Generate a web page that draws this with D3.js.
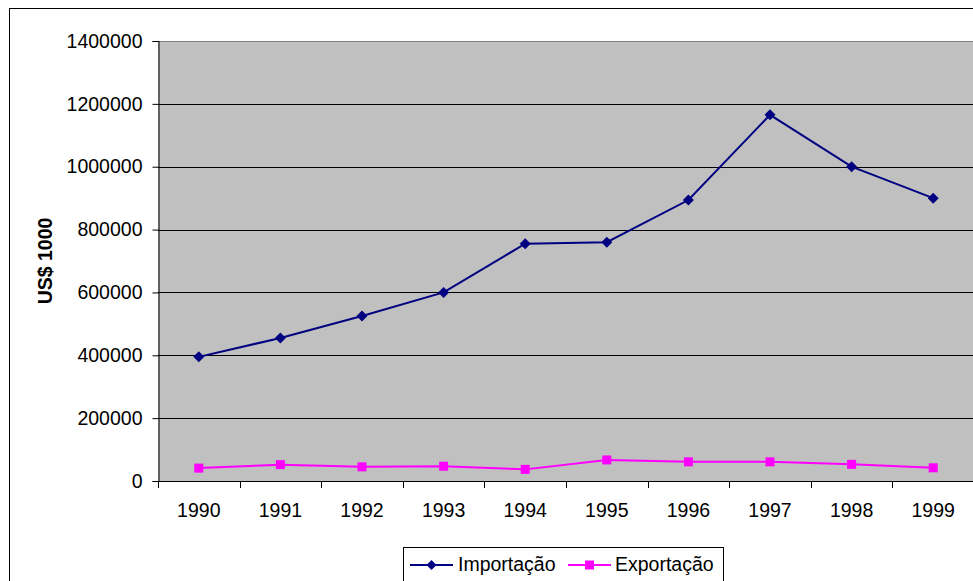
<!DOCTYPE html>
<html><head><meta charset="utf-8">
<script src="https://cdn.jsdelivr.net/npm/d3@7"></script>
<style>body{margin:0;background:#fff;}svg{display:block;font-family:Arial,"Liberation Sans",sans-serif;}</style>
</head><body>
<svg id="c" width="973" height="581"></svg>
<script>
const years = ["1990","1991","1992","1993","1994","1995","1996","1997","1998","1999"];
const importacao = [395000,455000,525000,600000,755000,760000,894000,1165000,1000000,900000];
const exportacao = [41000,52000,45000,47000,37000,67000,61000,61000,53000,42000];
const yTicks = [0,200000,400000,600000,800000,1000000,1200000,1400000];
const seriesNames = ["Importação","Exportação"];
const colors = ["#000080","#FF00FF"];

const FS = "19.5px";
const svg = d3.select("#c");
const L=158, T=41, R=974, B=481;
svg.append("rect").attr("x",9.5).attr("y",8.5).attr("width",1000).attr("height",600).attr("fill","#fff").attr("stroke","#000");
const x = d3.scaleBand().domain(years).range([L,R]).padding(0);
const y = d3.scaleLinear().domain([0,1400000]).range([B,T]);
svg.append("rect").attr("x",L).attr("y",T).attr("width",R-L).attr("height",B-T).attr("fill","#C0C0C0");
svg.append("line").attr("x1",L).attr("x2",R).attr("y1",T+0.5).attr("y2",T+0.5).attr("stroke","#808080");
svg.append("g").selectAll("line").data(yTicks.filter(d=>d>0&&d<1400000)).join("line")
  .attr("x1",L).attr("x2",R).attr("y1",d=>Math.round(y(d))+0.5).attr("y2",d=>Math.round(y(d))+0.5).attr("stroke","#000");

const ya = d3.axisLeft(y).tickValues(yTicks).tickSize(6).tickPadding(10).tickFormat(d=>String(d));
const gy = svg.append("g").attr("transform",`translate(${L+0.5},0)`).call(ya);
gy.selectAll("text").attr("font-size",FS).attr("fill","#000").attr("font-family","Arial,'Liberation Sans',sans-serif");
gy.selectAll("line,path").attr("stroke","#000");

const xa = d3.axisBottom(x).tickSize(0).tickPadding(22);
const gx = svg.append("g").attr("transform",`translate(0,${B+0.5})`).call(xa);
gx.select("path").remove();
gx.selectAll("text").attr("font-size",FS).attr("fill","#000").attr("font-family","Arial,'Liberation Sans',sans-serif");
svg.append("line").attr("x1",L).attr("x2",R).attr("y1",B+0.5).attr("y2",B+0.5).attr("stroke","#000");
svg.append("g").selectAll("line").data(years).join("line")
  .attr("x1",d=>Math.round(x(d))+0.5).attr("x2",d=>Math.round(x(d))+0.5).attr("y1",B).attr("y2",B+7).attr("stroke","#000");

svg.append("text").attr("transform",`translate(52,${(T+B)/2}) rotate(-90)`).attr("text-anchor","middle")
  .attr("font-size","19.5px").attr("font-weight","bold").text("US$ 1000");

const line = d3.line().x((d,i)=>x(years[i])+x.bandwidth()/2).y(d=>y(d));
const data = [importacao, exportacao];
const diamond = s=>`M0,${-s}L${s},0L0,${s}L${-s},0Z`;
data.forEach((ser,k)=>{
  svg.append("path").attr("d",line(ser)).attr("fill","none").attr("stroke",colors[k]).attr("stroke-width",2);
  const g = svg.append("g");
  ser.forEach((v,i)=>{
    const cx = x(years[i])+x.bandwidth()/2, cy = y(v);
    if(k===0) g.append("path").attr("d",diamond(5.5)).attr("transform",`translate(${cx},${cy})`).attr("fill",colors[k]);
    else g.append("rect").attr("x",cx-4.5).attr("y",cy-4.5).attr("width",9).attr("height",9).attr("fill",colors[k]);
  });
});

// legend
const lg = svg.append("g");
lg.append("rect").attr("x",403.5).attr("y",547.5).attr("width",320).attr("height",50).attr("fill","#fff").attr("stroke","#000");
const items=[{x0:410,tx:458},{x0:568,tx:615}];
items.forEach((it,k)=>{
  lg.append("line").attr("x1",it.x0).attr("x2",it.x0+43).attr("y1",565).attr("y2",565).attr("stroke",colors[k]).attr("stroke-width",2);
  const cx=it.x0+21.5;
  if(k===0) lg.append("path").attr("d",diamond(5)).attr("transform",`translate(${cx},565)`).attr("fill",colors[k]);
  else lg.append("rect").attr("x",cx-4.5).attr("y",560.5).attr("width",9).attr("height",9).attr("fill",colors[k]);
  lg.append("text").attr("x",it.tx).attr("y",571).attr("font-size",FS).text(seriesNames[k]);
});
</script>
</body></html>
